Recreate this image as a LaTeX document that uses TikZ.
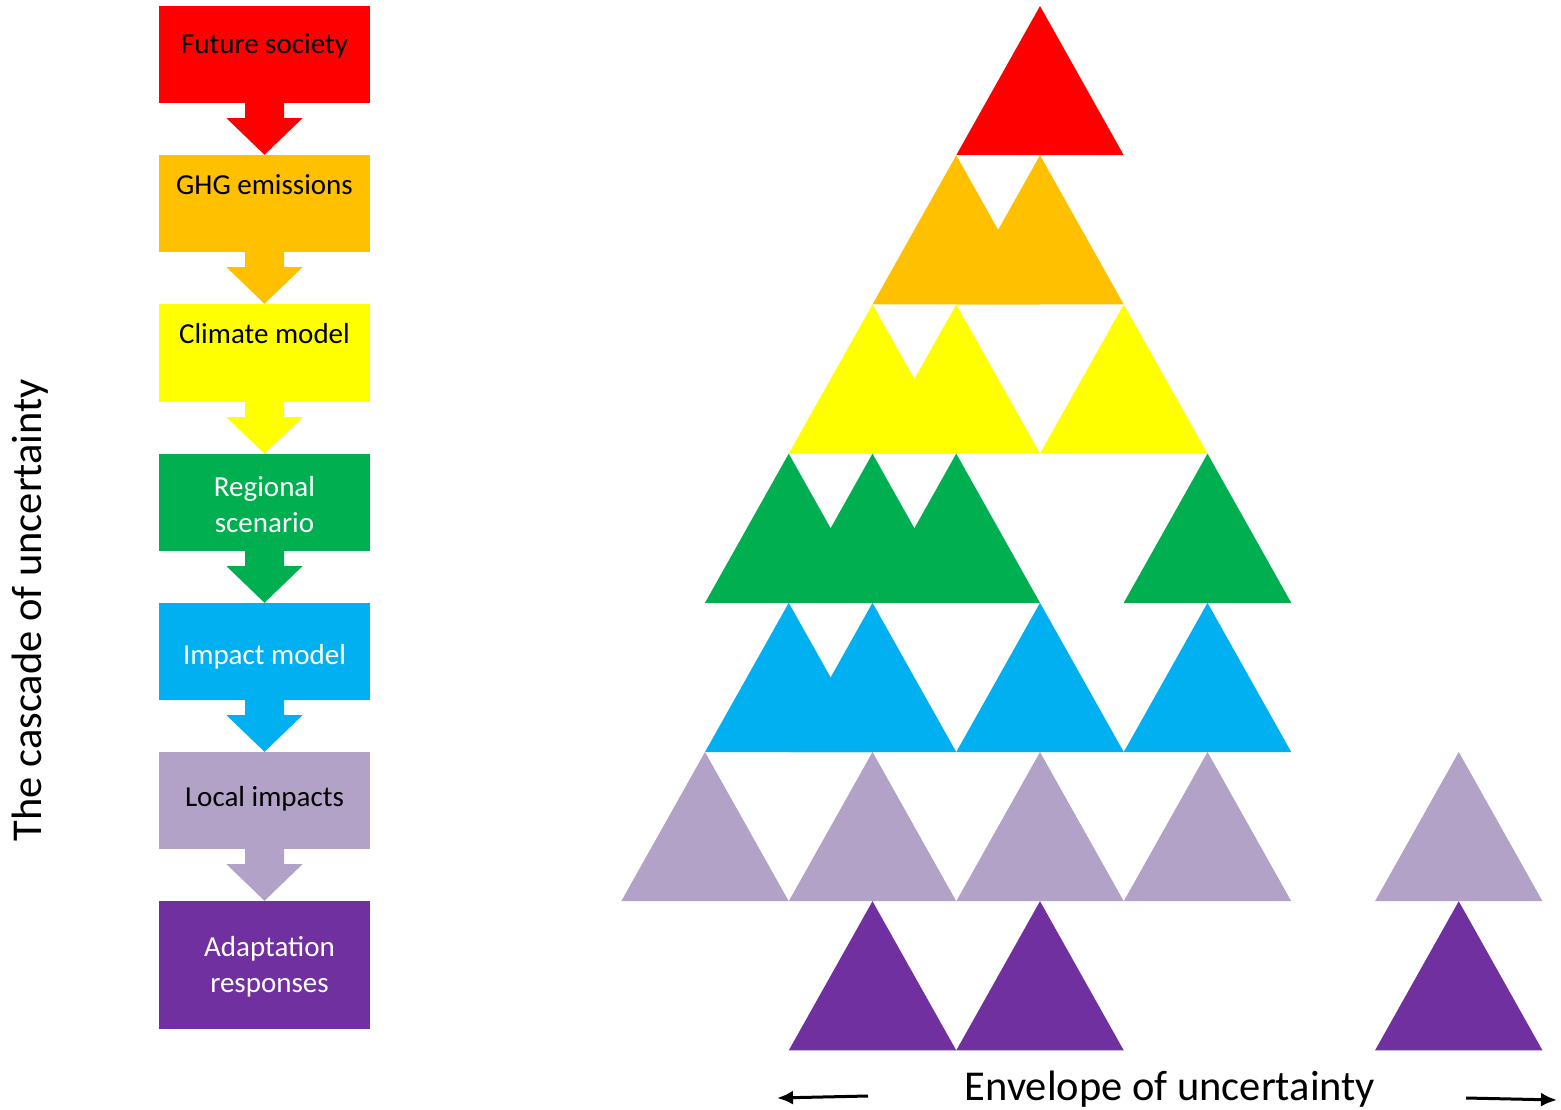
\documentclass[tikz,border=0pt]{standalone}
\usepackage{fontspec}
\setmainfont{Carlito}
\usetikzlibrary{arrows.meta,calc}
\definecolor{cred}{HTML}{FF0000}
\definecolor{corange}{HTML}{FFC000}
\definecolor{cyellow}{HTML}{FFFF00}
\definecolor{cgreen}{HTML}{00B050}
\definecolor{cblue}{HTML}{00B0F0}
\definecolor{clilac}{HTML}{B3A2C7}
\definecolor{cpurple}{HTML}{7030A0}

\begin{document}
\begin{tikzpicture}[x=1pt,y=-1pt,
  box/.style={rectangle,minimum width=211pt,minimum height=97pt,inner sep=0pt},
  lbl/.style={font=\fontsize{29}{36}\selectfont,align=center,inner sep=0pt},
  big/.style={font=\fontsize{42.5}{50}\selectfont,inner sep=0pt},
  envarrow/.style={line width=3pt,-{Latex[length=16pt,width=14pt]}}]

\useasboundingbox (0,0) rectangle (1561,1110);

% cascade boxes
\node[box,fill=cred] (fut) at (264.5,54.5) {};
\node[box,fill=corange] (ghg) at (264.5,203.5) {};
\node[box,fill=cyellow,minimum height=98pt] (clim) at (264.5,353) {};
\node[box,fill=cgreen] (reg) at (264.5,502.5) {};
\node[box,fill=cblue] (imp) at (264.5,651.5) {};
\node[box,fill=clilac] (loc) at (264.5,800.5) {};
\node[box,fill=cpurple,minimum height=128pt] (ada) at (264.5,965) {};

\node[lbl] (futT) at (264.5,46) {Future society};
\node[lbl] (ghgT) at (264.5,184.5) {GHG emissions};
\node[lbl] (climT) at (264.5,333.5) {Climate model};
\node[lbl,text=white] (regT) at (264.5,505) {Regional\\scenario};
\node[lbl,text=white] (impT) at (264.5,656.5) {Impact model};
\node[lbl] (locT) at (264.5,799) {Local impacts};
\node[lbl,text=white] (adaT) at (269.5,966.5) {Adaptation\\responses};

% block arrows between boxes
\foreach \a/\b/\c in {fut/ghg/cred,ghg/clim/corange,clim/reg/cyellow,reg/imp/cgreen,imp/loc/cblue,loc/ada/clilac}
  \fill[\c] ($(\a.south)+(-19.5,0)$) -- ($(\a.south)+(-19.5,15)$) -- ($(\a.south)+(-38,15)$) -- (\b.north)
    -- ($(\a.south)+(38,15)$) -- ($(\a.south)+(19.5,15)$) -- ($(\a.south)+(19.5,0)$) -- cycle;

% envelope triangles
\foreach \k/\r/\c in {0/0/cred,
  -1/1/corange,0/1/corange,
  -2/2/cyellow,-1/2/cyellow,1/2/cyellow,
  -3/3/cgreen,-2/3/cgreen,-1/3/cgreen,2/3/cgreen,
  -3/4/cblue,-2/4/cblue,0/4/cblue,2/4/cblue,
  -4/5/clilac,-2/5/clilac,0/5/clilac,2/5/clilac,5/5/clilac,
  -2/6/cpurple,0/6/cpurple,5/6/cpurple}
  \fill[\c] ({1040+83.75*(\k)},{6+149.2*\r}) -- ++(-83.75,149.2) -- ++(167.5,0) -- cycle;

% axis texts
\node[big,rotate=90] (casc) at (30,610) {The cascade of uncertainty};
\node[big] (env) at (1170,1089) {Envelope of uncertainty};
\coordinate (envLs) at (868,1096);
\coordinate (envL) at (777,1098);
\coordinate (envRs) at (1466,1098);
\coordinate (envR) at (1557,1100);
\draw[envarrow] (envLs) -- (envL);
\draw[envarrow] (envRs) -- (envR);
\end{tikzpicture}
\end{document}
